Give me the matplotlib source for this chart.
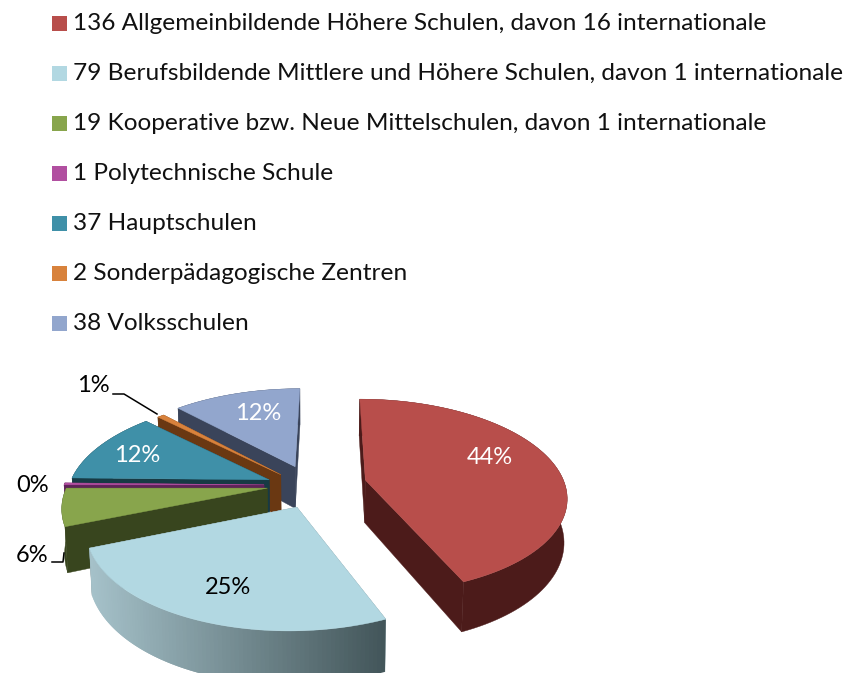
import numpy as np
import matplotlib
matplotlib.use("Agg")
import matplotlib.pyplot as plt
from matplotlib.patches import Polygon, Rectangle
from matplotlib.colors import to_rgb

counts = [136, 79, 19, 1, 37, 2, 38]
labels = ["136 Allgemeinbildende Höhere Schulen, davon 16 internationale",
          "79 Berufsbildende Mittlere und Höhere Schulen, davon 1 internationale",
          "19 Kooperative bzw. Neue Mittelschulen, davon 1 internationale",
          "1 Polytechnische Schule",
          "37 Hauptschulen",
          "2 Sonderpädagogische Zentren",
          "38 Volksschulen"]
top_colors = ["#b84e4b", "#b2d8e2", "#88a54c", "#b14fa0", "#3f90a8", "#d8823c", "#92a6cd"]
side_colors = ["#4c1b1a", "#7d9399", "#38451e", "#5e2358", "#173a44", "#6a3812", "#3a445a"]
explode = [0.31, 0.22, 0.17, 0.17, 0.17, 0.17, 0.2]
nudge_x = [2, 12, -2, -5, -3, 1, 6]
nudge_y = [1, 2, 0, 0, 1, 1, -1]
draw_order = [6, 5, 4, 3, 2, 1, 0]

CX, CY, A, B, E, G, DEPTH = 303.0, 485.0, 200.0, 3.4, 96.0, 0.164, 43.0

def project(u, v, bottom=False):
    w = 1 + G * v
    x = CX + (A * u + B * v) / w
    y = CY - E * v / w
    if bottom:
        x = CX + (x - CX) * 0.988
        y = y + DEPTH / w
    return x, y

fig = plt.figure(figsize=(8.47, 6.73), dpi=100)
ax = fig.add_axes([0, 0, 1, 1])
wedges, _ = ax.pie(counts, explode=explode, colors=top_colors, startangle=90,
                   counterclock=False, radius=1)
ax.set_aspect("auto")
ax.set_xlim(0, 847)
ax.set_ylim(673, 0)
ax.axis("off")

def poly(xs, ys, color, z):
    ax.add_patch(Polygon(np.column_stack([xs, ys]), closed=True, fc=color, ec=color, lw=0.3, zorder=z))

light, dark = np.array(to_rgb("#a6c2ca")), np.array(to_rgb("#43565a"))
z = 3
for i in draw_order:
    wd = wedges[i]
    wd.set_visible(False)
    (u0, v0) = wd.center
    th = np.radians(np.linspace(wd.theta1, wd.theta2, 90))
    au, av = u0 + np.cos(th), v0 + np.sin(th)
    dx, dy = nudge_x[i], nudge_y[i]
    z += 1
    ox, oy = project(u0, v0)
    ox4, oy4 = project(u0, v0, True)
    tx, ty = project(au, av)
    bx, by = project(au, av, True)
    ox, ox4, tx, bx = ox + dx, ox4 + dx, tx + dx, bx + dx
    oy, oy4, ty, by = oy + dy, oy4 + dy, ty + dy, by + dy
    # radial side faces
    for k in (0, -1):
        poly([ox, tx[k], bx[k], ox4], [oy, ty[k], by[k], oy4], side_colors[i], z)
    # outer rim
    if i == 1:
        # lit from the left: a shaded band, overlapping strips
        for j in range(len(th) - 1, 0, -1):
            f = (bx[j] - bx.min()) / (bx.max() - bx.min())
            col = tuple(light + (dark - light) * f)
            jn = max(j - 2, 0)
            ax.add_patch(Polygon(np.column_stack([[tx[j], tx[jn], bx[jn], bx[j]], [ty[j], ty[jn], by[jn], by[j]]]),
                                 closed=True, fc=col, ec="none", zorder=z))
    else:
        poly(np.r_[tx, bx[::-1]], np.r_[ty, by[::-1]], side_colors[i], z)
    # top face
    poly(np.r_[ox, tx], np.r_[oy, ty], top_colors[i], z)

total = sum(counts)
pct = [f"{round(100 * c / total)}%" for c in counts]
font = "Lato"
lab_pos = [(490, 457), (228, 587), (32, 555), (33, 486), (137, 455), (93, 386), (258, 414)]
lab_col = ["white", "black", "black", "black", "white", "black", "white"]
for s, (x, y), c in zip(pct, lab_pos, lab_col):
    ax.text(x, y, s, color=c, ha="center", va="center", fontsize=17, family=font, zorder=50)

ax.plot([113, 124, 157], [394, 394, 414], color="black", lw=1.1, zorder=40)
ax.plot([52, 63, 64], [562, 562, 553], color="black", lw=1.1, zorder=40)

for n, (lab, col) in enumerate(zip(labels, top_colors)):
    yc = 23.5 + 50 * n
    ax.add_patch(Rectangle((52, yc - 7.5), 15, 15, fc=col, ec="none", zorder=50))
    ax.text(73, yc, lab, fontsize=17.6, family=font, va="center", ha="left", color="#111111", zorder=50)

fig.savefig("out.png", dpi=100)
